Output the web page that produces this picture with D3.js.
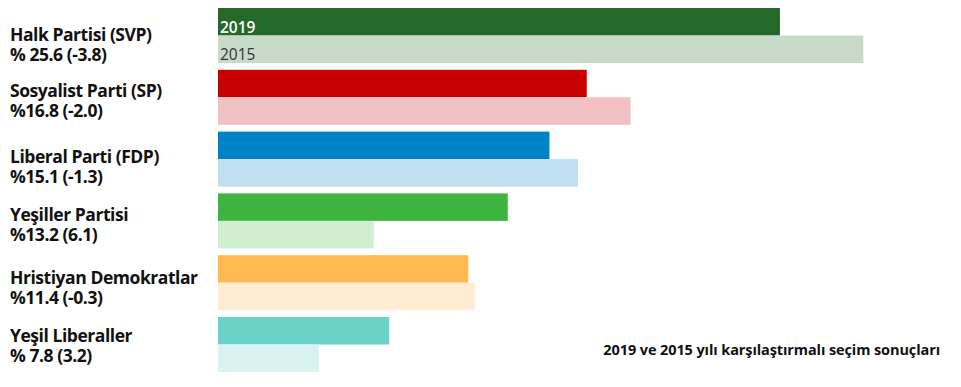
<!DOCTYPE html>
<html>
<head>
<meta charset="utf-8">
<script src="https://cdn.jsdelivr.net/npm/d3@7"></script>
<style>
  html, body { margin: 0; padding: 0; background: #fff; }
  svg { display: block; }
  text { font-family: "Open Sans", "Noto Sans", sans-serif; }
</style>
</head>
<body>
<svg id="chart" width="961" height="387"></svg>
<script>
// ---- data ----
const parties = ["Halk Partisi (SVP)", "Sosyalist Parti (SP)", "Liberal Parti (FDP)", "Yeşiller Partisi", "Hristiyan Demokratlar", "Yeşil Liberaller"];
const resultLabels = ["% 25.6 (-3.8)", "%16.8 (-2.0)", "%15.1 (-1.3)", "%13.2 (6.1)", "%11.4 (-0.3)", "% 7.8 (3.2)"];
const values2019 = [25.6, 16.8, 15.1, 13.2, 11.4, 7.8];
const values2015 = [29.4, 18.8, 16.4, 7.1, 11.7, 4.6];
const years = ["2019", "2015"];
const title = "2019 ve 2015 yılı karşılaştırmalı seçim sonuçları";

// ---- styles ----
const colors2019 = ["#24692a", "#c80000", "#0082c8", "#40b440", "#ffb950", "#6ad2c8"];
const colors2015 = ["#c8dbc8", "#f0c0c2", "#c0e0f2", "#d0eed0", "#ffecd3", "#d8f3f0"];
const labelNudge = [5, -1, 3, 0, 1, -3];

const svg = d3.select("#chart");

const x = d3.scaleLinear().domain([0, 30]).range([218, 218 + 30 * 21.95]);
const y = d3.scaleBand().domain(parties).range([8, 372]).paddingInner(0.11).paddingOuter(0);
const sub = d3.scaleBand().domain(years).range([0, y.bandwidth()]);

const rows = parties.map((p, i) => ({ party: p, label: resultLabels[i], v: [values2019[i], values2015[i]], i }));

const g = svg.selectAll("g.row").data(rows).join("g")
  .attr("class", "row")
  .attr("transform", d => `translate(0,${y(d.party)})`);

g.selectAll("rect").data(d => years.map((yr, k) => ({ yr, val: d.v[k], i: d.i })))
  .join("rect")
  .attr("x", x(0))
  .attr("y", d => sub(d.yr))
  .attr("width", d => x(d.val) - x(0))
  .attr("height", sub.bandwidth())
  .attr("fill", d => d.yr === "2019" ? colors2019[d.i] : colors2015[d.i]);

const lbl = g.append("text")
  .attr("x", 10)
  .attr("y", d => 28 + labelNudge[d.i])
  .attr("font-size", 17.5)
  .attr("font-weight", 700)
  .attr("letter-spacing", -0.45)
  .attr("fill", "#111");
lbl.append("tspan").attr("x", 10).text(d => d.party);
lbl.append("tspan").attr("x", 10).attr("dy", 20).text(d => d.label);

// year labels inside first group
const first = svg.select("g.row");
first.append("text")
  .attr("x", x(0) + 2)
  .attr("y", sub("2019") + sub.bandwidth() - 3)
  .attr("font-size", 15.5)
  .attr("font-weight", 600)
  .attr("fill", "#fff")
  .text(years[0]);
first.append("text")
  .attr("x", x(0) + 2)
  .attr("y", sub("2015") + sub.bandwidth() - 3)
  .attr("font-size", 15.5)
  .attr("font-weight", 400)
  .attr("fill", "#333")
  .text(years[1]);

svg.append("text")
  .attr("x", 940)
  .attr("y", 355)
  .attr("text-anchor", "end")
  .attr("font-size", 14.5)
  .attr("font-weight", 700)
  .attr("letter-spacing", -0.1)
  .attr("fill", "#111")
  .text(title);
</script>
</body>
</html>
